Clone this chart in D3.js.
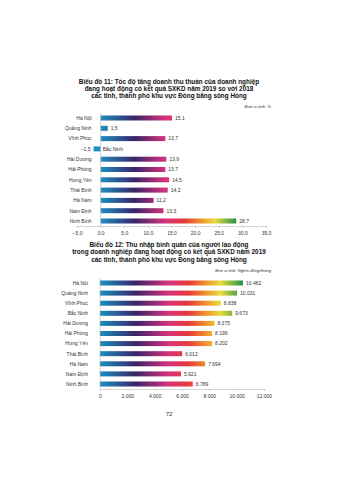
<!DOCTYPE html>
<html><head><meta charset="utf-8">
<script src="https://cdn.jsdelivr.net/npm/d3@7"></script>
<style>body{margin:0;background:#fff}svg{display:block}</style>
</head><body>
<script>
const provinces = ["Hà Nội","Quảng Ninh","Vĩnh Phúc","Bắc Ninh","Hải Dương","Hải Phòng","Hưng Yên","Thái Bình","Hà Nam","Nam Định","Ninh Bình"];
const growth = [15.1,1.5,13.7,-1.5,13.9,13.7,14.5,14.2,11.2,13.3,28.7];
const income = [10462,10031,8838,9673,8375,8199,8202,6012,7694,5921,6789];
const ticks1 = [-5,0,5,10,15,20,25,30,35];
const ticks2 = [0,2000,4000,6000,8000,10000,12000];
const title1 = ["Biểu đồ 11: Tốc độ tăng doanh thu thuần của doanh nghiệp","đang hoạt động có kết quả SXKD năm 2019 so với 2018","các tỉnh, thành phố khu vực Đồng bằng sông Hồng"];
const title2 = ["Biểu đồ 12: Thu nhập bình quân của người lao động","trong doanh nghiệp đang hoạt động có kết quả SXKD năm 2019","các tỉnh, thành phố khu vực Đồng bằng sông Hồng"];
const unit1 = "Đơn vị tính: %";
const unit2 = "Đơn vị tính: Nghìn đồng/tháng";
const gradStops = [[0,"#1b8fbf"],[0.25,"#3a2468"],[0.48,"#d8327c"],[0.62,"#e53a3a"],[0.72,"#f0822e"],[0.84,"#eadb3a"],[1,"#23914a"]];

const W=339,H=480;
const svg=d3.select("body").append("svg").attr("width",W).attr("height",H);
const defs=svg.append("defs");
const font="Liberation Sans, Arial, sans-serif";

function chart(o){
  const x=d3.scaleLinear().domain(o.domain).range(o.xr);
  const y=d3.scalePoint().domain(provinces).range(o.yr);
  const g=svg.append("g");
  // titles
  o.title.forEach((t,i)=>g.append("text").attr("x",169).attr("y",o.ty+i*7.4)
    .attr("text-anchor","middle").attr("font-family",font).attr("font-weight","bold")
    .attr("font-size",6.4).attr("fill","#111").text(t));
  g.append("text").attr("x",271).attr("y",o.uy).attr("text-anchor","end")
    .attr("font-family",font).attr("font-style","italic").attr("font-size",4.2).attr("fill","#333").text(o.unit);
  // gradient
  const gid="grad"+o.id;
  const gr=defs.append("linearGradient").attr("id",gid).attr("gradientUnits","userSpaceOnUse")
    .attr("x1",x(0)).attr("x2",x(d3.max(o.values))).attr("y1",0).attr("y2",0);
  gradStops.forEach(s=>gr.append("stop").attr("offset",s[0]).attr("stop-color",s[1]));
  const bh=5;
  g.selectAll("rect.bar").data(o.values).enter().append("rect")
    .attr("x",d=>x(Math.min(0,d))).attr("y",(d,i)=>y(provinces[i])-bh/2)
    .attr("width",d=>Math.abs(x(d)-x(0))).attr("height",bh).attr("fill",`url(#${gid})`);
  // value labels
  g.selectAll("text.val").data(o.values).enter().append("text")
    .attr("x",d=>d<0?x(d)-3:x(d)+3).attr("y",(d,i)=>y(provinces[i])+1.8)
    .attr("text-anchor",d=>d<0?"end":"start").attr("font-family",font).attr("font-size",5).attr("fill","#333")
    .text(o.fmt);
  // category labels
  g.selectAll("text.cat").data(provinces).enter().append("text")
    .attr("x",(d,i)=>o.values[i]<0?x(0)+2:x(0)-o.labGap).attr("y",d=>y(d)+1.8)
    .attr("text-anchor",(d,i)=>o.values[i]<0?"start":"end").attr("font-family",font).attr("font-size",5).attr("fill","#333")
    .text(d=>d);
  // axes
  const ax=g.append("g").attr("transform",`translate(0,${o.ay})`)
    .call(d3.axisBottom(x).tickValues(o.ticks).tickSize(2).tickPadding(3).tickFormat(o.tfmt));
  ax.select(".domain").attr("stroke","#bbb").attr("stroke-width",0.6);
  ax.selectAll(".tick line").attr("stroke","#bbb").attr("stroke-width",0.6);
  ax.selectAll(".tick text").attr("font-family",font).attr("font-size",5).attr("fill","#333");
  g.append("line").attr("x1",x(0)).attr("x2",x(0)).attr("y1",o.yr[0]-5).attr("y2",o.ay)
    .attr("stroke","#bbb").attr("stroke-width",0.6);
}
const vi1=d3.formatLocale({decimal:",",thousands:".",grouping:[3],currency:["",""]});
const vi2=d3.formatLocale({decimal:".",thousands:".",grouping:[3],currency:["",""]});
chart({id:1,title:title1,ty:83.5,unit:unit1,uy:107.5,values:growth,domain:[-5,35],xr:[77,266],
  yr:[118,221],ay:226,ticks:ticks1,fmt:vi1.format(".1f"),tfmt:vi2.format(".1f"),labGap:9});
chart({id:2,title:title2,ty:247,unit:unit2,uy:272,values:income,domain:[0,12000],xr:[100,264],
  yr:[283,384],ay:389,ticks:ticks2,fmt:vi1.format(",d"),tfmt:vi1.format(",d"),labGap:12});
svg.append("text").attr("x",169).attr("y",416).attr("text-anchor","middle").attr("font-family",font)
  .attr("font-size",6).attr("fill","#333").text("72");
</script>
</body></html>
